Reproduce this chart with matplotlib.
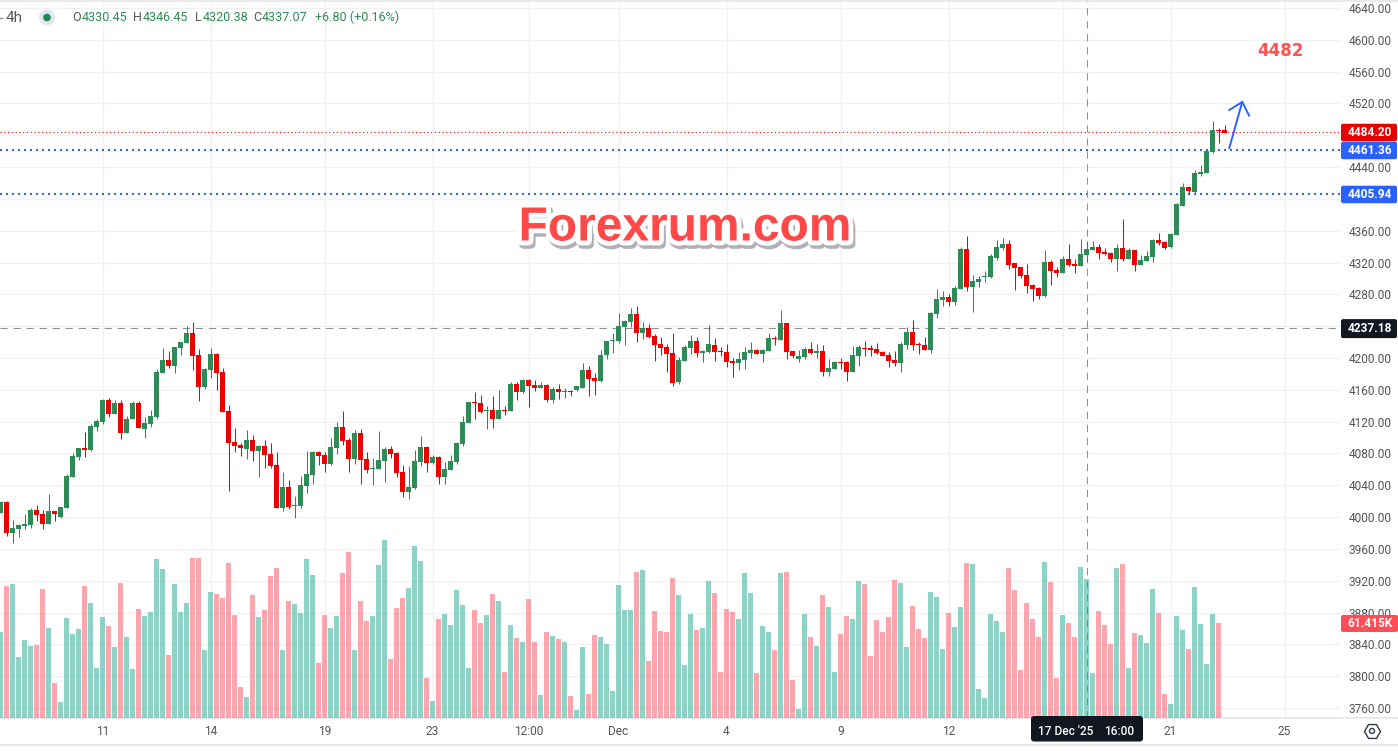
import matplotlib
matplotlib.use("Agg")
import matplotlib.pyplot as plt
import matplotlib.patheffects as pe
from matplotlib.patches import FancyBboxPatch, Rectangle, Circle
from matplotlib.lines import Line2D
from matplotlib.transforms import Affine2D
import numpy as np

opens = [4005.1,4018.9,3980,3985,3988.8,3990,4008.9,4003.8,3991.3,4007.6,
4000.1,4011.4,4050.4,4075.5,4086.8,4084.3,4113.2,4119.5,4147.2,4129.6,
4143.4,4105.7,4123.3,4143.4,4110.7,4117,4125.8,4181.1,4197.4,4189.9,
4212.5,4218.8,4231.4,4203.7,4163.5,4184.9,4205,4182.4,4133.3,4094.4,
4090.6,4085.6,4096.9,4083,4089.3,4079.3,4065.4,4011.4,4037.8,4013.9,
4013.9,4039,4052.9,4081.8,4078.1,4066.8,4086.9,4113.3,4096.9,4073,
4105.7,4073,4060.5,4060.5,4070.5,4085.6,4080.6,4056.7,4031.6,4036.6,
4069.3,4088.1,4068,4075.6,4050.4,4059.2,4069.3,4091.9,4118.3,4144.7,
4143.4,4133.4,4134.6,4123.3,4134.6,4133.4,4167.3,4157.3,4172.4,4166.1,
4162.3,4166.1,4147.2,4161,4157.3,4159,4159.8,4162.3,4184.9,4174.9,
4171.1,4203.8,4221.4,4221.4,4239,4245.3,4255.3,4231.4,4237.7,4227.7,
4217.6,4213.8,4206.3,4169.8,4196.2,4212.6,4221.4,4206.3,4207.6,4216.4,
4208.8,4207.6,4196.2,4193.7,4197.5,4206.3,4210.1,4205,4208.8,4225.2,
4222.6,4244,4208.8,4198.8,4201.3,4211.3,4206.3,4208.8,4182.4,4186.2,
4195,4195,4182.4,4202.5,4212.6,4212.6,4211.3,4207.6,4203.8,4197.5,
4193.7,4216.4,4232.7,4217.6,4216.4,4210.1,4255.3,4272.9,4276.7,4270.4,
4286.7,4337,4289.2,4295.5,4301.8,4301.8,4325.7,4338.3,4343.3,4319.4,
4314.4,4304.3,4291.7,4288,4277.9,4320.7,4310.6,4306.8,4324.4,4318.2,
4315.6,4329.5,4335.8,4339.5,4333.2,4332,4324.4,4338.3,4324.4,4335.8,
4316.9,4321.9,4327,4348.3,4345.8,4339.5,4354.6,4391.1,4415,4408.7,
4431.3,4432.6,4458.9,4486.6,4486.6]

highs = [4020.2,4020.2,3996.3,3991.3,4003.8,4011.4,4015.2,4008.9,4029,4007.6,
4012.6,4054.1,4080.5,4086.8,4106.9,4117,4123.3,4148.4,4149.7,4147.2,
4147.2,4127,4145.9,4145.9,4125.8,4134.6,4186.1,4212.5,4208.8,4213.8,
4220.1,4240.2,4245.2,4211.3,4187.4,4212.5,4206.2,4187.4,4140.9,4112,
4093.1,4109.4,4103.2,4090.6,4096.9,4093.1,4081.8,4056.6,4046.6,4026.5,
4051.6,4083,4083,4083,4081.9,4099.5,4119.6,4133.4,4099.5,4109.5,
4110.8,4081.9,4074.3,4108.2,4088.1,4089.4,4081.9,4065.5,4064.2,4084.4,
4102,4089.4,4078.1,4076.8,4069.3,4078.1,4094.4,4127.1,4144.7,4157.3,
4153.5,4139.7,4152.2,4159.8,4139.7,4169.8,4169.8,4173.6,4173.6,4172.4,
4169.8,4167.3,4163.6,4167.3,4162.3,4159.8,4164.8,4193.7,4189.9,4181.2,
4210.1,4221.4,4231.4,4256.6,4247.8,4262.9,4265.4,4245.3,4242.8,4230.2,
4226.4,4217.6,4231.4,4201.3,4216.4,4228.9,4226.4,4210.1,4241.5,4225.2,
4213.8,4217.6,4200,4207.6,4213.8,4220.1,4211.3,4211.3,4231.4,4227.7,
4260.4,4244,4208.8,4210.1,4213.8,4220.1,4217.6,4216.4,4198.8,4196.2,
4200,4196.2,4215.1,4216.4,4221.4,4216.4,4218.9,4208.8,4207.6,4208.8,
4220.1,4239,4247.8,4220.1,4226.4,4257.8,4286.7,4284.2,4280.4,4290.5,
4339.5,4353.4,4304.3,4303.1,4309.4,4330.7,4348.3,4350.8,4348.3,4319.4,
4314.4,4318.2,4293,4289.2,4335.8,4323.2,4314.4,4328.2,4343.3,4324.4,
4349.6,4347.1,4347.1,4343.3,4338.3,4333.2,4343.3,4374.7,4338.3,4335.8,
4329.5,4334.5,4349.6,4357.1,4347.1,4357.1,4394.8,4420,4416.2,4436.3,
4442.6,4462.7,4497.9,4489.1,4492.9]

lows = [4005.1,3976.2,3967.4,3975,3985,3986.3,3995,3985,3991.3,3995,
3998.8,4011.4,4050.4,4071.7,4075.5,4083,4108.2,4117,4125.8,4129.6,
4098.1,4105.7,4123.3,4112,4099.4,4113.2,4123.3,4181.1,4187.4,4181.1,
4203.7,4218.8,4184.9,4145.9,4161,4174.8,4159.7,4132.1,4032.8,4081.8,
4076.8,4073,4070.5,4050.4,4061.7,4061.7,4011.4,4007.6,4010.1,3998.8,
4011.4,4030.2,4041.6,4065.4,4056.7,4065.5,4079.3,4090.6,4056.7,4066.8,
4041.6,4055.5,4040.4,4060.5,4044.1,4074.3,4050.4,4025.3,4022.8,4035.3,
4064.2,4056.7,4066.8,4041.6,4041.6,4059.2,4066.8,4089.4,4118.3,4123.3,
4130.9,4110.8,4112,4123.3,4128.4,4133.4,4147.2,4156,4138.4,4158.5,
4162.3,4144.7,4143.4,4148.5,4149.7,4152.2,4158.5,4162.3,4152.2,4153.5,
4169.8,4198.8,4206.3,4218.9,4216.4,4239,4220.1,4223.9,4225.2,4196.2,
4203.8,4182.4,4164.8,4167.3,4196.2,4205,4201.3,4195,4206.3,4196.2,
4202.5,4188.7,4176.1,4184.9,4186.2,4200,4205,4195,4208.8,4216.4,
4222.6,4198.8,4200,4195,4198.8,4205,4200,4177.4,4177.4,4186.2,
4186.2,4171.1,4182.4,4189.9,4202.5,4202.5,4205,4202.5,4188.7,4189.9,
4182.4,4211.3,4210.1,4205,4210.1,4206.3,4250.3,4265.4,4265.4,4266.6,
4286.7,4284.2,4257.8,4289.2,4295.5,4300.6,4323.2,4335.8,4311.9,4285.5,
4300.6,4281.7,4271.6,4274.2,4276.7,4291.7,4301.8,4306.8,4315.6,4306.8,
4315.6,4320.7,4335.8,4324.4,4329.5,4320.7,4309.4,4321.9,4324.4,4309.4,
4316.9,4321.9,4320.7,4342,4337,4338.3,4354.6,4391.1,4406.2,4406.2,
4428.8,4432.6,4457.7,4470.3,4482.8]

closes = [4018.9,3980,3986.3,3990,3991.3,4008.9,4002.6,3991.3,4007.6,4003.8,
4012.6,4051.6,4076.8,4086.8,4084.3,4114.5,4120.8,4147.2,4129.6,4143.4,
4105.7,4123.3,4143.4,4112,4118.2,4127,4182.4,4197.4,4189.9,4213.8,
4220.1,4231.4,4202.5,4163.5,4186.1,4205,4181.1,4132.1,4093.1,4089.3,
4086.8,4096.9,4083,4089.3,4078,4064.2,4011.4,4037.8,4012.6,4015.2,
4040.3,4054.1,4081.8,4076.8,4066.8,4088.1,4113.3,4095.7,4073,4105.7,
4071.8,4059.2,4061.7,4071.8,4085.6,4079.3,4055.5,4031.6,4037.9,4070.5,
4088.1,4068,4075.6,4050.4,4060.5,4070.5,4093.2,4119.6,4144.7,4143.4,
4132.1,4134.6,4123.3,4134.6,4133.4,4167.3,4157.3,4172.4,4164.8,4162.3,
4166.1,4147.2,4161,4157.3,4158.5,4157.7,4164.8,4184.9,4173.6,4171.1,
4203.8,4221.4,4222.6,4240.2,4246.5,4255.3,4231.4,4237.7,4226.4,4216.4,
4212.6,4205,4168.6,4197.5,4213.8,4221.4,4206.3,4208.8,4217.6,4207.6,
4207.6,4195,4193.7,4198.8,4207.6,4210.1,4205,4210.1,4225.2,4223.9,
4244,4207.6,4202.5,4202.5,4211.3,4206.3,4208.8,4182.4,4187.4,4195,
4193.7,4182.4,4203.8,4213.8,4211.3,4210.1,4206.3,4202.5,4196.2,4193.7,
4217.6,4232.7,4216.4,4216.4,4210.1,4256.6,4274.2,4276.7,4270.4,4288,
4337,4289.2,4296.8,4299.3,4303.1,4328.2,4339.5,4343.3,4316.9,4313.1,
4303.1,4290.5,4286.7,4277.9,4320.7,4309.4,4306.8,4324.4,4316.9,4315.6,
4330.7,4337,4339.5,4332,4330.7,4324.4,4338.3,4324.4,4335.8,4316.9,
4323.2,4328.2,4348.3,4344.6,4338.3,4355.9,4393.6,4415,4409.9,4432.6,
4433.8,4460.2,4486.6,4485.3,4482.8]

volumes_k = [55.6,85.5,86.8,39.3,50.4,46.5,47.1,83.6,58.2,22.4,
10.0,64.7,54.3,57.5,85.5,74.5,32.1,65.3,59.5,45.8,
87.5,52.3,31.5,70.6,66.0,68.6,103.1,96.6,40.6,86.8,
68.6,74.5,103.8,103.8,43.9,81.6,80.3,77.7,100.5,66.6,
19.8,13.2,79.7,65.3,69.9,92.1,97.3,43.9,75.8,73.8,
68.0,103.1,92.7,35.4,66.6,58.2,66.0,94.0,107.7,43.9,
75.8,62.7,66.0,99.2,115.5,38.0,71.2,77.7,84.2,111.6,
101.8,25.6,10.6,64.0,67.3,60.1,82.9,73.2,32.1,69.9,
61.4,66.6,80.3,75.8,29.5,60.1,51.7,49.1,77.1,49.1,
14.5,55.6,53.0,51.0,49.1,13.9,4.8,45.8,15.2,53.6,
52.3,47.8,17.2,86.2,69.9,69.9,94.7,96.0,36.7,69.3,
56.2,55.6,90.7,79.7,34.1,67.3,56.9,58.2,88.8,81.0,
29.5,70.6,68.6,64.0,94.0,81.0,28.9,59.5,55.6,43.9,
94.0,94.7,24.3,5.4,67.3,52.3,46.5,79.7,71.9,29.5,
54.3,66.0,64.0,88.8,86.8,39.9,63.4,55.6,65.3,89.4,
87.5,45.8,72.5,57.5,51.7,81.6,78.4,44.5,68.0,58.8,
71.9,100.5,99.9,18.5,12.6,67.3,62.7,55.6,97.3,82.9,
30.8,74.5,64.0,52.3,101.2,88.1,25.6,66.6,61.4,52.3,
97.9,90.1,28.9,69.3,60.1,47.8,97.3,99.9,32.1,54.9,
53.6,48.4,83.6,68.0,15.2,8.7,66.0,56.9,44.5,84.9,
60.8,34.7,67.3,61.4]

price_ticks = list(range(3760, 4641, 40))
hidden_price_labels = [4240, 4400, 4480]
time_tick_pos = [17, 35, 54, 72, 88, 103, 121, 140, 158, 195, 214]
time_tick_labels = ["11", "14", "19", "23", "12:00", "Dec", "4", "9", "12", "21", "25"]
grid_only_pos = [177]
crosshair_bar = 181
crosshair_price = 4237.18
blue_levels = [4461.36, 4405.94]
last_price = 4484.20
target_label = "4482"
arrow_shaft = ([204.8, 206.95], [4464.0, 4521.8])
arrow_head = ([204.8, 206.95, 208.1], [4511.7, 4521.8, 4504.7])

W, H = 1398, 751
UP, DOWN = "#2E8B57", "#EE0000"
BLUE = "#2962FF"
GRID = "#F0F1F4"
AXIS = "#E0E3EB"
TXT = "#555555"
FONT = "Roboto"
plt.rcParams["font.family"] = [FONT, "DejaVu Sans"]

fig = plt.figure(figsize=(W / 100, H / 100), dpi=100, facecolor="white")
px = Affine2D().scale(1, -1).translate(0, H)

PW, PH = 1341, 717.5
rect = [0, 1 - PH / H, PW / W, PH / H]
ax = fig.add_axes(rect)
ax.set_xlim(-0.5 / 6, (PW - 0.5) / 6)
ax.set_ylim(3760 + (708 - PH) * 1.2571, 3760 + 708 * 1.2571)
for s in ax.spines.values():
    s.set_visible(False)

ax.yaxis.tick_right()
ax.set_yticks(price_ticks)
ax.set_yticklabels(["" if p in hidden_price_labels else f"{p:.2f}" for p in price_ticks],
                   color=TXT, fontsize=8.6)
ax.tick_params(axis="y", length=0, pad=5.6)
ax.set_xticks(time_tick_pos + grid_only_pos)
ax.set_xticklabels(time_tick_labels + [""] * len(grid_only_pos), color=TXT, fontsize=8.6)
ax.tick_params(axis="x", length=0, pad=5.5)
ax.grid(True, color=GRID, lw=1.0)
ax.set_axisbelow(True)

n = len(opens)
x = np.arange(n)
o, h, l, c = map(np.array, (opens, highs, lows, closes))
cols = np.where(c >= o, UP, DOWN)

ax.hlines(blue_levels, ax.get_xlim()[0], ax.get_xlim()[1], color=BLUE, lw=1.44,
          linestyle=(0, (1, 2)), zorder=1.8)
ax.axhline(last_price, color=DOWN, lw=0.8, linestyle=(0, (1, 2.4)), zorder=1.8)
ax.axhline(crosshair_price, color="#8E9094", lw=0.75, linestyle=(0, (7, 5.5)), zorder=1.8)
ax.axvline(crosshair_bar, color="#8E9094", lw=0.75, linestyle=(0, (7, 5.5)), zorder=1.8)

ax.vlines(x, l, h, colors=cols, lw=0.75, zorder=2)
ax.bar(x, np.abs(c - o), bottom=np.minimum(o, c), width=5 / 6, color=cols, lw=0, zorder=2.2)

ax.plot(*arrow_shaft, color=BLUE, lw=1.4, zorder=3)
ax.plot(*arrow_head, color=BLUE, lw=1.4, zorder=3)
ax.text(213.4, 4586, target_label, family="DejaVu Sans", weight="bold", fontsize=12,
        color="#FF5252", ha="center", va="center", zorder=3)

# volume pane, same width, bars start at the pane's bottom edge
vax = fig.add_axes(rect, sharex=ax, zorder=2)
vax.patch.set_visible(False)
vax.axis("off")
vax.set_ylim(0, PH * 0.6513)
vcols = ["#1FAB8F" if k == UP else "#FF4D5D" for k in cols[: len(volumes_k)]]
vax.bar(x[: len(volumes_k)], volumes_k, width=5 / 6, color=vcols, alpha=0.5, lw=0)

# frame lines
for (x0, y0, x1, y1) in [(0, 717.5, PW, 717.5), (1343, 717.5, W, 717.5), (0, 745, W, 745), (0, 0.5, W, 0.5)]:
    fig.add_artist(Line2D([x0, x1], [y0, y1], color=AXIS, lw=1.1, transform=px))


def py(price):
    return H - ax.transData.transform((0, price))[1]


def pricelabel(price_y, text, color, height=17.5, right=1397):
    fig.add_artist(FancyBboxPatch((1341, price_y - height / 2), right - 1341, height,
                                  boxstyle="round,pad=0,rounding_size=2", fc=color, ec="none",
                                  transform=px, zorder=10))
    fig.text(1370, price_y + 0.2, text, color="white", fontsize=8.6, weight="bold",
             ha="center", va="center", transform=px, zorder=11)


pricelabel(py(4237.18) + 0.2, "4237.18", "#131722", 19)
pricelabel(py(4405.94) + 0.3, "4405.94", BLUE)
pricelabel(py(last_price) + 0.6, "4484.20", "#E60000")
pricelabel(py(4461.36) + 0.4, "4461.36", BLUE)
pricelabel(623.5, "61.415K", "#FF4D55", 17, 1398)

# crosshair time label
fig.add_artist(FancyBboxPatch((1031, 716), 112, 25.5, boxstyle="round,pad=0,rounding_size=3",
                              fc="#131722", ec="none", transform=px, zorder=10))
fig.text(1038, 731.5, "17 Dec '25", color="white", fontsize=8.6, weight="medium", va="center",
         transform=px, zorder=11)
fig.text(1104, 731.5, "16:00", color="white", fontsize=8.6, weight="medium", va="center",
         transform=px, zorder=11)

# settings glyph
fig.add_artist(Line2D([1372], [731], marker="H", ms=11.5, mfc="none", mec="#333a45", mew=1.0,
                      transform=px, zorder=10))
fig.add_artist(Circle((1372, 731), 2.5, fc="none", ec="#333a45", lw=1.0, transform=px, zorder=10))

# legend row
fig.add_artist(Line2D([0, 2], [17.5, 17.5], color="#888888", lw=1, transform=px))
fig.text(6, 17.5, "4h", color=TXT, fontsize=11, va="center", transform=px)
fig.add_artist(Circle((47, 17.5), 8, fc="#E3E6EE", ec="none", transform=px))
fig.add_artist(Circle((47, 17.5), 3.8, fc="#1F8A50", ec="none", transform=px))
for xp, s, col in [(72, "O", TXT), (82, "4330.45", UP), (133.5, "H", TXT), (143, "4346.45", UP),
                   (195, "L", TXT), (203, "4320.38", UP), (253.5, "C", TXT), (262, "4337.07", UP),
                   (315, "+6.80 (+0.16%)", UP)]:
    fig.text(xp, 17.5, s, color=col, fontsize=9, va="center", transform=px)

# watermark
t = fig.text(685, 228, "Forexrum.com", family="Liberation Sans", weight="bold", fontsize=34.5,
             color="#FF4848", ha="center", va="center", transform=px, zorder=9)
t.set_path_effects([pe.Stroke(linewidth=7, foreground="#AEB1B7", offset=(1.5, -2.5)),
                    pe.Stroke(linewidth=7, foreground="white"), pe.Normal()])

fig.savefig("out.png", dpi=100)
